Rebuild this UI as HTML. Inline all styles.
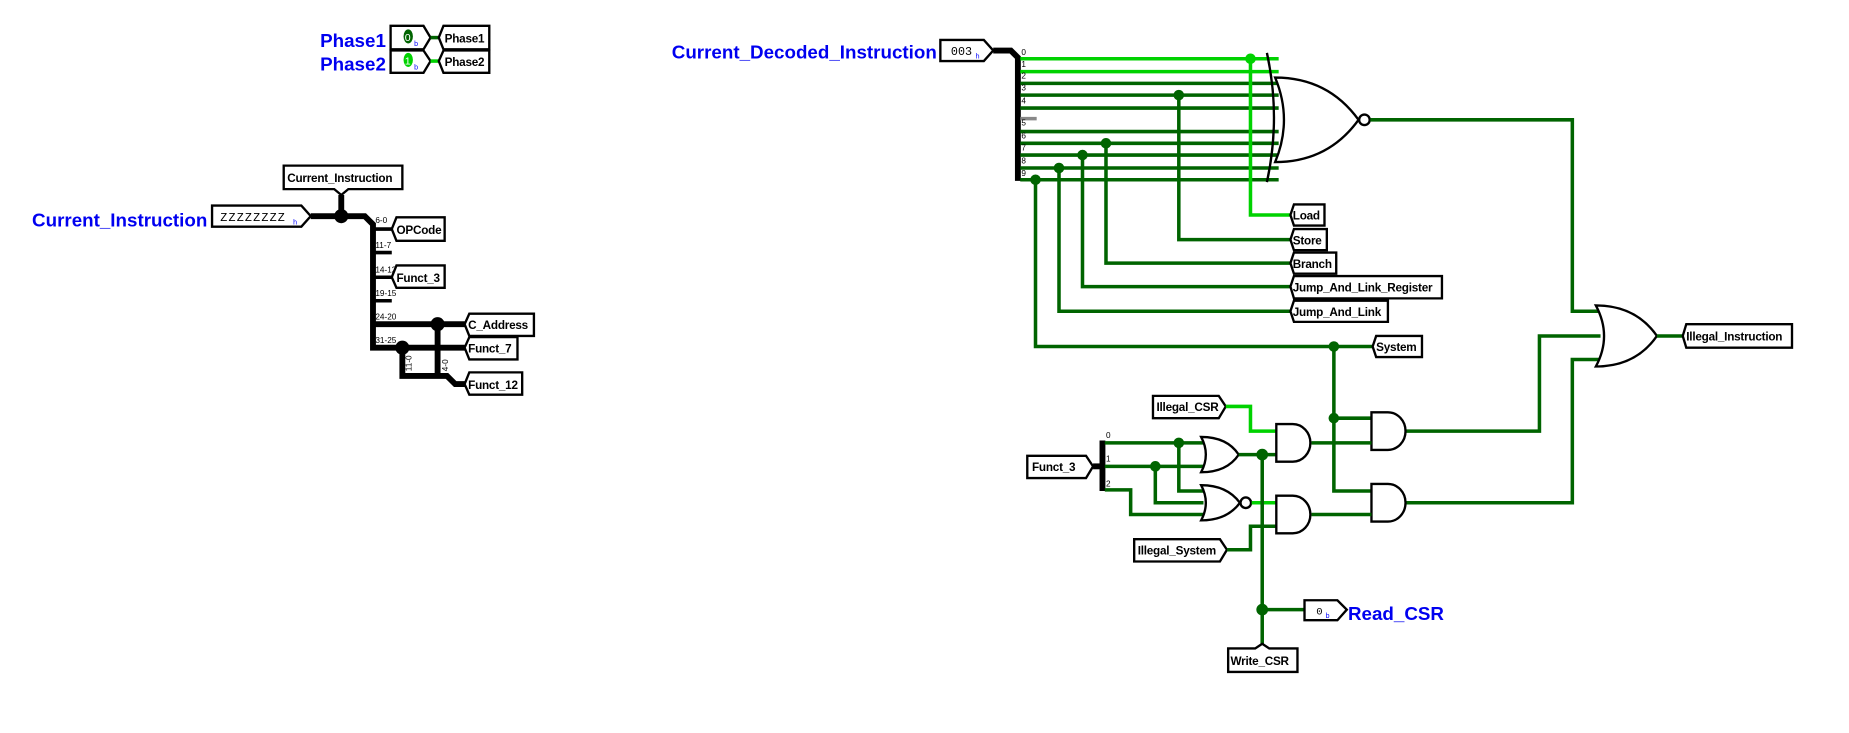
<!DOCTYPE html>
<html><head><meta charset="utf-8"><style>
html,body{margin:0;padding:0;background:#fff;}
svg{display:block;}
text{font-family:"Liberation Sans",sans-serif;}
.t{font-size:10px;font-weight:bold;fill:#000;letter-spacing:-0.2px;}
.b{font-size:16px;font-weight:bold;fill:#0000f0;}
.s{font-size:7px;fill:#000;}
.g{stroke:#006400;stroke-width:3;fill:none;}
.l{stroke:#00d200;stroke-width:3;fill:none;}
.k{stroke:#000;stroke-width:5;fill:none;}
.box{fill:#fff;stroke:#000;stroke-width:2;}
.gate{fill:#fff;stroke:#000;stroke-width:2;}
</style></head><body>
<svg width="1849" height="733" viewBox="0 0 1573 624" xmlns="http://www.w3.org/2000/svg">
<rect width="1573" height="624" fill="#fff"/>

<text class="b" x="328" y="40" text-anchor="end">Phase1</text>
<text class="b" x="328" y="60" text-anchor="end">Phase2</text>
<polygon class="box" points="332,22 360,22 366,32 360,42 332,42"/>
<polygon class="box" points="332,43 360,43 366,52 360,62 332,62"/>
<ellipse cx="347" cy="31" rx="4" ry="6" fill="#006400"/>
<text x="344" y="35" style="font-size:9px" fill="#fff">0</text>
<text x="352" y="39" style="font-size:6px" fill="#00f">b</text>
<ellipse cx="347" cy="51" rx="4" ry="6" fill="#00d200"/>
<text x="344" y="55" style="font-size:9px" fill="#fff">1</text>
<text x="352" y="59" style="font-size:6px" fill="#00f">b</text>
<line x1="366" y1="32" x2="373" y2="32" class="g"/>
<line x1="366" y1="52" x2="373" y2="52" class="l"/>
<polygon class="box" points="373,32 377,22 416,22 416,42 377,42"/>
<polygon class="box" points="373,52 377,43 416,43 416,62 377,62"/>
<text class="t" x="378" y="36">Phase1</text>
<text class="t" x="378" y="56">Phase2</text>

<text class="b" x="176" y="193" text-anchor="end">Current_Instruction</text>
<polygon class="box" points="180,175 256,175 264,184 256,193 180,193"/>
<text x="187" y="188" style="font-size:10px;font-family:'Liberation Mono',monospace;letter-spacing:1px">ZZZZZZZZ</text>
<text x="249" y="191" style="font-size:6px" fill="#00f">h</text>
<polyline class="k" points="264,184 310,184 317,191 317,296 342,296"/>
<line class="k" x1="290" y1="166" x2="290" y2="184"/>
<circle cx="290" cy="184" r="6" fill="#000"/>
<polygon class="box" points="241,141 342,141 342,161 296,161 290,166 284,161 241,161"/>
<text class="t" x="244" y="155">Current_Instruction</text>
<g stroke="#000" stroke-width="3">
<line x1="317" y1="195" x2="333" y2="195"/>
<line x1="317" y1="215" x2="333" y2="215"/>
<line x1="317" y1="236" x2="333" y2="236"/>
<line x1="317" y1="256" x2="333" y2="256"/>
</g>
<polyline class="k" points="317,276 395,276"/>
<polyline class="k" points="342,296 395,296"/>
<polyline class="k" points="342,296 342,320 380,320 387,327 395,327"/>
<polyline class="k" points="372,276 372,320"/>
<circle cx="372" cy="276" r="6" fill="#000"/>
<circle cx="342" cy="296" r="6" fill="#000"/>
<text class="s" x="319" y="190">6-0</text>
<text class="s" x="319" y="211">11-7</text>
<text class="s" x="319" y="232">14-12</text>
<text class="s" x="319" y="252">19-15</text>
<text class="s" x="319" y="272">24-20</text>
<text class="s" x="319" y="292">31-25</text>
<text class="s" x="350" y="316" transform="rotate(-90 350 316)">11-0</text>
<text class="s" x="381" y="316" transform="rotate(-90 381 316)">4-0</text>
<polygon class="box" points="333,195 337,185 378,185 378,205 337,205"/>
<text class="t" x="337" y="199">OPCode</text>
<polygon class="box" points="333,236 337,226 378,226 378,245 337,245"/>
<text class="t" x="337" y="240">Funct_3</text>
<polygon class="box" points="395,276 399,267 454,267 454,286 399,286"/>
<text class="t" x="398" y="280">C_Address</text>
<polygon class="box" points="395,296 399,287 440,287 440,306 399,306"/>
<text class="t" x="398" y="300">Funct_7</text>
<polygon class="box" points="395,327 399,317 444,317 444,336 399,336"/>
<text class="t" x="398" y="331">Funct_12</text>

<text class="b" x="797" y="50" text-anchor="end">Current_Decoded_Instruction</text>
<polygon class="box" points="800,34 837,34 845,43 837,52 800,52"/>
<text x="809" y="47" style="font-size:10px;font-family:'Liberation Mono',monospace">003</text>
<text x="830" y="50" style="font-size:6px" fill="#00f">h</text>
<polyline class="k" points="845,43 860,43 866,49 866,154"/>

<line class="l" x1="868" y1="50" x2="1088" y2="50"/>
<line class="l" x1="868" y1="61" x2="1088" y2="61"/>
<line class="g" x1="868" y1="71" x2="1088" y2="71"/>
<line class="g" x1="868" y1="81" x2="1088" y2="81"/>
<line class="g" x1="868" y1="92" x2="1088" y2="92"/>
<line x1="868" y1="101" x2="882" y2="101" stroke="#888" stroke-width="3"/>
<line class="g" x1="868" y1="112" x2="1088" y2="112"/>
<line class="g" x1="868" y1="122" x2="1088" y2="122"/>
<line class="g" x1="868" y1="132" x2="1088" y2="132"/>
<line class="g" x1="868" y1="143" x2="1088" y2="143"/>
<line class="g" x1="868" y1="153" x2="1088" y2="153"/>
<text class="s" x="869" y="47">0</text><text class="s" x="869" y="57">1</text>
<text class="s" x="869" y="67">2</text><text class="s" x="869" y="77">3</text>
<text class="s" x="869" y="88">4</text><text class="s" x="869" y="107">5</text>
<text class="s" x="869" y="118">6</text><text class="s" x="869" y="128">7</text>
<text class="s" x="869" y="139">8</text><text class="s" x="869" y="150">9</text>

<path d="M1078,45 Q1090,100 1078,155" fill="none" stroke="#000" stroke-width="2"/>
<path class="gate" d="M1085,66 Q1130,66 1156,102 Q1130,138 1085,138 Q1100,102 1085,66 Z"/>
<circle cx="1161" cy="102" r="4.5" class="gate"/>
<polyline class="g" points="1166,102 1338,102 1338,265 1362,265"/>

<polyline class="l" points="1064,50 1064,183 1098,183"/>
<circle cx="1064" cy="50" r="4.5" fill="#00d200"/>
<polyline class="g" points="1003,81 1003,204 1098,204"/>
<circle cx="1003" cy="81" r="4.5" fill="#006400"/>
<polyline class="g" points="941,122 941,224 1098,224"/>
<circle cx="941" cy="122" r="4.5" fill="#006400"/>
<polyline class="g" points="921,132 921,244 1098,244"/>
<circle cx="921" cy="132" r="4.5" fill="#006400"/>
<polyline class="g" points="901,143 901,265 1098,265"/>
<circle cx="901" cy="143" r="4.5" fill="#006400"/>
<polyline class="g" points="881,153 881,295 1168,295"/>
<circle cx="881" cy="153" r="4.5" fill="#006400"/>

<polygon class="box" points="1098,183 1101,174 1127,174 1127,192 1101,192"/>
<text class="t" x="1100" y="187">Load</text>
<polygon class="box" points="1098,204 1101,195 1129,195 1129,213 1101,213"/>
<text class="t" x="1100" y="208">Store</text>
<polygon class="box" points="1098,224 1101,215 1137,215 1137,233 1101,233"/>
<text class="t" x="1100" y="228">Branch</text>
<polygon class="box" points="1098,244 1101,235 1227,235 1227,254 1101,254"/>
<text class="t" x="1100" y="248">Jump_And_Link_Register</text>
<polygon class="box" points="1098,265 1101,256 1181,256 1181,274 1101,274"/>
<text class="t" x="1100" y="269">Jump_And_Link</text>
<polygon class="box" points="1168,295 1171,286 1210,286 1210,304 1171,304"/>
<text class="t" x="1171" y="299">System</text>

<polyline class="g" points="1135,295 1135,418 1167,418"/>
<line class="g" x1="1135" y1="356" x2="1167" y2="356"/>
<circle cx="1135" cy="295" r="4.5" fill="#006400"/>
<circle cx="1135" cy="356" r="4.5" fill="#006400"/>

<polyline class="g" points="1196,367 1310,367 1310,286 1362,286"/>
<polyline class="g" points="1196,428 1338,428 1338,306 1362,306"/>
<path class="gate" d="M1358,260 Q1392,260 1410,286 Q1392,312 1358,312 Q1372,286 1358,260 Z"/>
<line class="g" x1="1410" y1="286" x2="1432" y2="286"/>
<polygon class="box" points="1432,286 1435,276 1525,276 1525,296 1435,296"/>
<text class="t" x="1435" y="290">Illegal_Instruction</text>

<polygon class="box" points="874,388 924,388 930,397 924,407 874,407"/>
<text class="t" x="878" y="401">Funct_3</text>
<line class="k" x1="930" y1="397" x2="938" y2="397"/>
<line class="k" x1="938" y1="375" x2="938" y2="418"/>
<text class="s" x="941" y="373">0</text><text class="s" x="941" y="393">1</text><text class="s" x="941" y="414">2</text>
<line class="g" x1="940" y1="377" x2="1024" y2="377"/>
<line class="g" x1="940" y1="397" x2="1024" y2="397"/>
<polyline class="g" points="940,417 962,417 962,438 1024,438"/>
<polyline class="g" points="1003,377 1003,418 1024,418"/>
<polyline class="g" points="983,397 983,428 1024,428"/>
<circle cx="1003" cy="377" r="4.5" fill="#006400"/>
<circle cx="983" cy="397" r="4.5" fill="#006400"/>

<path class="gate" d="M1022,372 Q1044,372 1054,387 Q1044,402 1022,402 Q1030,387 1022,372 Z"/>
<path class="gate" d="M1022,413 Q1044,413 1055,428 Q1044,443 1022,443 Q1030,428 1022,413 Z"/>
<circle cx="1060" cy="428" r="4.5" class="gate"/>
<line class="g" x1="1054" y1="387" x2="1088" y2="387"/>
<line class="l" x1="1065" y1="428" x2="1088" y2="428"/>
<polyline class="g" points="1074,387 1074,550"/>
<circle cx="1074" cy="387" r="5" fill="#006400"/>

<polygon class="box" points="981,337 1037,337 1043,346 1037,356 981,356"/>
<text class="t" x="984" y="350">Illegal_CSR</text>
<polyline class="l" points="1043,346 1064,346 1064,367 1088,367"/>
<polygon class="box" points="965,459 1038,459 1044,468 1038,478 965,478"/>
<text class="t" x="968" y="472">Illegal_System</text>
<polyline class="g" points="1044,468 1064,468 1064,448 1088,448"/>

<path class="gate" d="M1086,361 L1100,361 A15,16 0 0 1 1100,393 L1086,393 Z"/>
<path class="gate" d="M1086,422 L1100,422 A15,16 0 0 1 1100,454 L1086,454 Z"/>
<path class="gate" d="M1167,351 L1181,351 A15,16 0 0 1 1181,383 L1167,383 Z"/>
<path class="gate" d="M1167,412 L1181,412 A15,16 0 0 1 1181,444 L1167,444 Z"/>
<line class="g" x1="1116" y1="377" x2="1167" y2="377"/>
<line class="g" x1="1116" y1="438" x2="1167" y2="438"/>

<line class="g" x1="1074" y1="519" x2="1110" y2="519"/>
<circle cx="1074" cy="519" r="5" fill="#006400"/>
<polygon class="box" points="1110,511 1138,511 1146,519 1138,528 1110,528"/>
<text x="1120" y="523" style="font-size:9px;font-family:'Liberation Mono',monospace">0</text>
<text x="1128" y="526" style="font-size:6px" fill="#00f">b</text>
<text class="b" x="1147" y="528">Read_CSR</text>
<polygon class="box" points="1045,552 1068,552 1074,548 1080,552 1104,552 1104,572 1045,572"/>
<text class="t" x="1047" y="566">Write_CSR</text>
</svg>
</body></html>
